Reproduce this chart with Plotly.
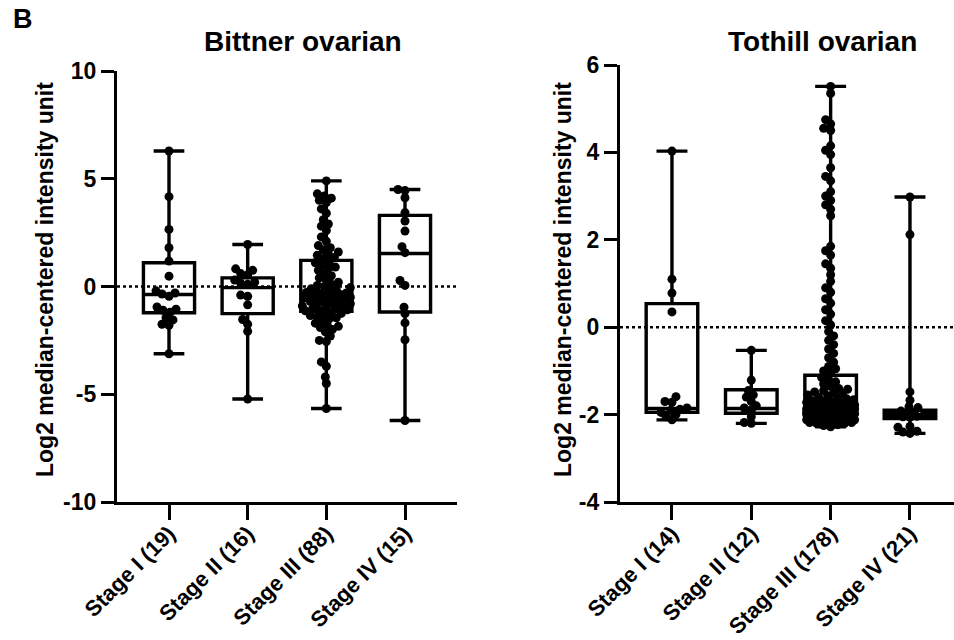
import numpy as np
import plotly.graph_objects as go

FONT = "Liberation Sans, Arial, Helvetica, sans-serif"
W, H = 954, 640

# ---------------- data ----------------
categories_bittner = ["Stage I (19)", "Stage II (16)", "Stage III (88)", "Stage IV (15)"]
categories_tothill = ["Stage I (14)", "Stage II (12)", "Stage III (178)", "Stage IV (21)"]

bittner_yticks = [-10, -5, 0, 5, 10]
tothill_yticks = [-4, -2, 0, 2, 4, 6]

bittner_stage1 = [6.29, 4.17, 2.65, 1.80, 1.18, 0.48, -0.2, -0.3, -0.35, -0.45,
                  -0.95, -1.05, -1.1, -1.2, -1.45, -1.55, -1.75, -1.8, -3.12]
bittner_stage2 = [1.95, 0.82, 0.75, 0.6, 0.55, 0.3, 0.2, 0.15, 0.1, -0.4, -0.45,
                  -0.85, -1.53, -1.75, -2.08, -5.22]
bittner_stage3 = [4.9, 4.3, 4.2, 4.1, 4.0, 3.9, 3.6, 3.4, 3.1, 2.9, 2.8, 2.6, 2.3, 2.1,
                  1.9, 1.8, 1.7, 1.6, 1.5, 1.45, 1.35, 1.3,
                  1.15, 1.1, 1.0, 0.9, 0.85, 0.75, 0.6, 0.5, 0.4, 0.3, 0.2, 0.1, 0.05,
                  0.0, -0.05, -0.1, -0.15, -0.2, -0.25, -0.28, -0.3, -0.33,
                  -0.37, -0.4, -0.42, -0.45, -0.5, -0.52, -0.55, -0.6, -0.65, -0.7,
                  -0.72, -0.75, -0.8, -0.85, -0.9, -0.92, -0.95, -1.0, -1.05, -1.08,
                  -1.1, -1.13,
                  -1.2, -1.25, -1.3, -1.35, -1.4, -1.45, -1.5, -1.6, -1.7, -1.8, -1.85,
                  -1.9, -2.0, -2.1, -2.3, -2.5, -2.55, -3.5, -3.7, -4.2, -4.5, -5.66]
bittner_stage4 = [4.5, 4.45, 4.12, 3.43, 3.04, 2.57, 1.85, 1.57, 0.28, 0.05, -0.96,
                  -1.26, -1.69, -2.47, -6.22]

bittner_q1 = [-1.22, -1.26, -1.15, -1.18]
bittner_median = [-0.37, -0.05, -0.35, 1.53]
bittner_q3 = [1.10, 0.40, 1.21, 3.30]

tothill_stage1 = [4.03, 1.1, 0.78, 0.35, -1.59, -1.7, -1.72, -1.85, -1.88, -1.9,
                  -1.95, -2.0, -2.05, -2.12]
tothill_stage2 = [-0.53, -1.21, -1.45, -1.55, -1.6, -1.7, -1.8, -1.85, -1.9, -2.05,
                  -2.18, -2.2]
tothill_stage3 = [5.51, 5.35, 4.75, 4.65, 4.55, 4.5, 4.15, 4.05, 3.95, 3.65, 3.45, 3.35,
                  3.1, 3.0, 2.9, 2.8, 2.7, 2.55, 1.85, 1.75, 1.65, 1.45, 1.35, 1.2,
                  1.05, 0.9, 0.8, 0.65, 0.55, 0.4, 0.3, 0.15, 0.05, -0.1, -0.2, -0.3,
                  -0.4, -0.5, -0.6, -0.7, -0.8, -0.9, -0.95, -1.0, -1.05,
                  -1.15, -1.2, -1.25, -1.3, -1.35, -1.4, -1.42, -1.45, -1.48, -1.5,
                  -1.52, -1.55, -1.57, -1.6, -1.62, -1.64, -1.66, -1.68, -1.7, -1.7,
                  -1.72, -1.73, -1.74, -1.75, -1.76, -1.77, -1.78, -1.79, -1.8, -1.8,
                  -1.81, -1.82, -1.83, -1.84, -1.84, -1.85, -1.85, -1.86, -1.86, -1.87,
                  -1.87, -1.88, -1.88, -1.89, -1.89,
                  -1.90, -1.90, -1.90, -1.90, -1.91, -1.91, -1.91, -1.91,
                  -1.92, -1.92, -1.92, -1.92, -1.93, -1.93, -1.93, -1.93,
                  -1.94, -1.94, -1.94, -1.94, -1.95, -1.95, -1.95, -1.95,
                  -1.96, -1.96, -1.96, -1.96, -1.97, -1.97, -1.97, -1.97,
                  -1.98, -1.98, -1.98, -1.98, -1.99, -1.99, -1.99, -1.99,
                  -2.00, -2.00, -2.00, -2.00,
                  -2.02, -2.02, -2.02, -2.03, -2.03, -2.03, -2.04, -2.04, -2.04,
                  -2.05, -2.05, -2.05, -2.06, -2.06, -2.06, -2.07, -2.07, -2.07,
                  -2.08, -2.08, -2.08, -2.09, -2.09, -2.09, -2.10, -2.10, -2.10,
                  -2.12, -2.12, -2.12, -2.14, -2.14, -2.14, -2.16, -2.16, -2.16,
                  -2.18, -2.18, -2.18, -2.20, -2.20, -2.23, -2.25, -2.28]
tothill_stage4 = [2.98, 2.12, -1.48, -1.67, -1.82, -1.84, -1.92, -1.95, -1.97, -1.98,
                  -2.0, -2.01, -2.02, -2.04, -2.05, -2.06, -2.27, -2.29, -2.38, -2.40,
                  -2.43]

tothill_q1 = [-1.95, -1.97, -2.01, -2.09]
tothill_median = [-1.86, -1.86, -1.90, -2.00]
tothill_q3 = [0.54, -1.43, -1.10, -1.90]

bittner_groups = [bittner_stage1, bittner_stage2, bittner_stage3, bittner_stage4]
tothill_groups = [tothill_stage1, tothill_stage2, tothill_stage3, tothill_stage4]

# ---------------- geometry (pixels) ----------------
L_X0, L_X1 = 117, 457
R_X0, R_X1 = 620, 954
L_YTOP, R_YTOP, YBOT = 71, 65, 502
L_XRANGE = [-0.661, 3.661]
R_XRANGE = [-0.655, 3.555]
L_YRANGE = [-10, 10]
R_YRANGE = [-4, 6]


def swarm_offsets(values, px_per_y, collide, max_half):
    vals = np.asarray(values, float)
    order = np.argsort(vals, kind="stable")
    cand = np.arange(-max_half, max_half + 0.5, 1.0)
    cand = cand[np.argsort(np.abs(cand), kind="stable")]
    px_list, py_list = [], []
    offs = np.zeros(len(vals))
    for i in order:
        y = vals[i] * px_per_y
        best = 0.0
        if px_list:
            pxa = np.array(px_list)
            pya = np.array(py_list)
            dy = pya - y
            near = np.abs(dy) < collide
            if near.any():
                d = np.sqrt((cand[:, None] - pxa[near][None, :]) ** 2 + dy[near][None, :] ** 2).min(axis=1)
                score = np.minimum(d, collide)
                best = cand[int(np.argmax(score))]
        offs[i] = best
        px_list.append(best)
        py_list.append(y)
    return offs


fig = go.Figure()


def add_panel(groups, q1, med, q3, xaxis, yaxis, x0px, x1px, xr, ytop, yr):
    px_per_x = (x1px - x0px) / (xr[1] - xr[0])
    px_per_y = (YBOT - ytop) / (yr[1] - yr[0])
    fig.add_trace(go.Box(
        x=[0, 1, 2, 3], q1=q1, median=med, q3=q3,
        lowerfence=[min(g) for g in groups], upperfence=[max(g) for g in groups],
        orientation="v", boxpoints=False, width=0.65, whiskerwidth=0.6,
        line=dict(color="black", width=3.4), fillcolor="rgba(0,0,0,0)",
        xaxis=xaxis, yaxis=yaxis, hoverinfo="skip"))
    for i, g in enumerate(groups):
        offs = swarm_offsets(g, px_per_y, 6.5, 24)
        fig.add_trace(go.Scatter(
            x=i + offs / px_per_x, y=g, mode="markers",
            marker=dict(color="black", size=9, line=dict(width=0)),
            xaxis=xaxis, yaxis=yaxis, hoverinfo="skip"))


add_panel(bittner_groups, bittner_q1, bittner_median, bittner_q3, "x", "y",
          L_X0, L_X1, L_XRANGE, L_YTOP, L_YRANGE)
add_panel(tothill_groups, tothill_q1, tothill_median, tothill_q3, "x2", "y2",
          R_X0, R_X1, R_XRANGE, R_YTOP, R_YRANGE)

tickfont = dict(family=FONT, size=23, color="black", weight="bold")
xtickfont = dict(family=FONT, size=22, color="black", weight="bold")

common_axis = dict(showline=True, linewidth=3.2, linecolor="black", ticks="outside",
                   tickwidth=3.2, tickcolor="black", showgrid=False, zeroline=False,
                   automargin=False, fixedrange=True)

fig.update_layout(
    width=W, height=H, margin=dict(l=0, r=0, t=0, b=0),
    paper_bgcolor="white", plot_bgcolor="white", showlegend=False,
    template="none",
    xaxis=dict(domain=[L_X0 / W, L_X1 / W], range=L_XRANGE, tickvals=[0, 1, 2, 3],
               ticktext=categories_bittner, tickangle=-45, ticklen=15,
               ticklabelstandoff=-8,
               tickfont=xtickfont, anchor="y", **common_axis),
    yaxis=dict(domain=[1 - YBOT / H, 1 - L_YTOP / H], range=L_YRANGE,
               tickvals=bittner_yticks, ticktext=[str(v) for v in bittner_yticks],
               ticklen=13, tickfont=tickfont, anchor="x", **common_axis),
    xaxis2=dict(domain=[R_X0 / W, R_X1 / W], range=R_XRANGE, tickvals=[0, 1, 2, 3],
                ticktext=categories_tothill, tickangle=-45, ticklen=15,
                ticklabelstandoff=-8,
                tickfont=xtickfont, anchor="y2", **common_axis),
    yaxis2=dict(domain=[1 - YBOT / H, 1 - R_YTOP / H], range=R_YRANGE,
                tickvals=tothill_yticks, ticktext=[str(v) for v in tothill_yticks],
                ticklen=13, tickfont=tickfont, anchor="x2", **common_axis),
)

for xr_, yr_ in (("x domain", "y"), ("x2 domain", "y2")):
    fig.add_shape(type="line", xref=xr_, yref=yr_, x0=0, x1=1, y0=0, y1=0,
                  line=dict(color="black", width=2.5, dash="dot"), layer="below")


def ann(text, xpx, ypx, size, angle=0):
    fig.add_annotation(text=text, x=xpx / W, y=1 - ypx / H, xref="paper", yref="paper",
                       xanchor="center", yanchor="middle", showarrow=False,
                       textangle=angle,
                       font=dict(family=FONT, size=size, color="black", weight="bold"))


ann("B", 23, 19, 27)
ann("Bittner ovarian", 303, 41, 28)
ann("Tothill ovarian", 822, 41, 28)
ann("Log2 median-centered intensity unit", 45, 280, 23, -90)
ann("Log2 median-centered intensity unit", 563, 280, 23, -90)

fig.write_html("out.html")
